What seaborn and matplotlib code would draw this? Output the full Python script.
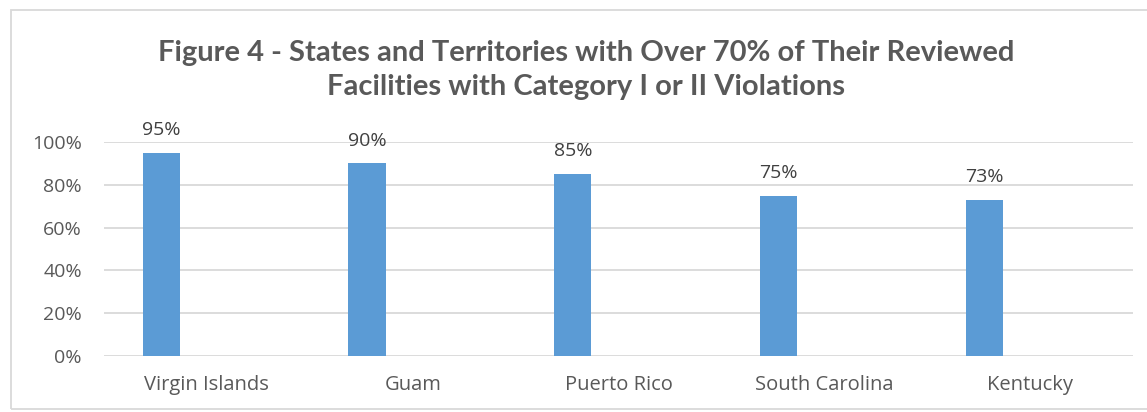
import matplotlib
matplotlib.use("Agg")
import matplotlib.pyplot as plt
import seaborn as sns
import pandas as pd
from matplotlib.patches import Rectangle

categories = ["Virgin Islands", "Guam", "Puerto Rico", "South Carolina", "Kentucky"]
values = [95, 90, 85, 75, 73]
labels = ["95%", "90%", "85%", "75%", "73%"]
yticks = [0, 20, 40, 60, 80, 100]
ytick_labels = ["0%", "20%", "40%", "60%", "80%", "100%"]
title = "Figure 4 - States and Territories with Over 70% of Their Reviewed\nFacilities with Category I or II Violations"

sns.set_theme(style="white")
plt.rcParams['font.family'] = ['Open Sans', 'DejaVu Sans']

df = pd.DataFrame({"state": categories, "pct": values})

fig = plt.figure(figsize=(11.47, 4.12), dpi=100)
ax = fig.add_axes([104/1147, 1-356/412, (1133-104)/1147, (356-142)/412])

sns.barplot(data=df, x="state", y="pct", color="#5B9BD5", saturation=1, width=0.18, ax=ax)
shift = 0.222
for p in ax.patches:
    p.set_x(p.get_x() - shift)
    p.set_linewidth(0)

ax.set_ylim(0, 100)
ax.set_xlim(-0.5, len(categories) - 0.5)
ax.set_yticks(yticks)
ax.set_yticklabels(ytick_labels)
ax.yaxis.grid(True, color="#D9D9D9", linewidth=1.3)
ax.set_axisbelow(True)
for s in ax.spines.values():
    s.set_visible(False)
ax.set_xlabel("")
ax.set_ylabel("")
ax.tick_params(axis="y", length=0, pad=16, labelsize=14, labelcolor="#595959")
ax.tick_params(axis="x", length=0, pad=14, labelsize=14.5, labelcolor="#595959")

for i, (v, lab) in enumerate(zip(values, labels)):
    ax.annotate(lab, (i - shift, v), xytext=(0, 10), textcoords="offset points",
                ha="center", va="bottom", fontsize=14, color="#404040", annotation_clip=False)

fig.text(586/1147, 1-70/412, title, ha="center", va="center", fontsize=21,
         fontweight="bold", color="#595959", linespacing=1.37, family=["Lato", "DejaVu Sans"])

fig.patches.append(Rectangle((11/1147, 1-409/412), 1.2, (409-10)/412, transform=fig.transFigure,
                             fill=False, edgecolor="#D9D9D9", linewidth=1.3))

fig.savefig("out.png", dpi=100)
